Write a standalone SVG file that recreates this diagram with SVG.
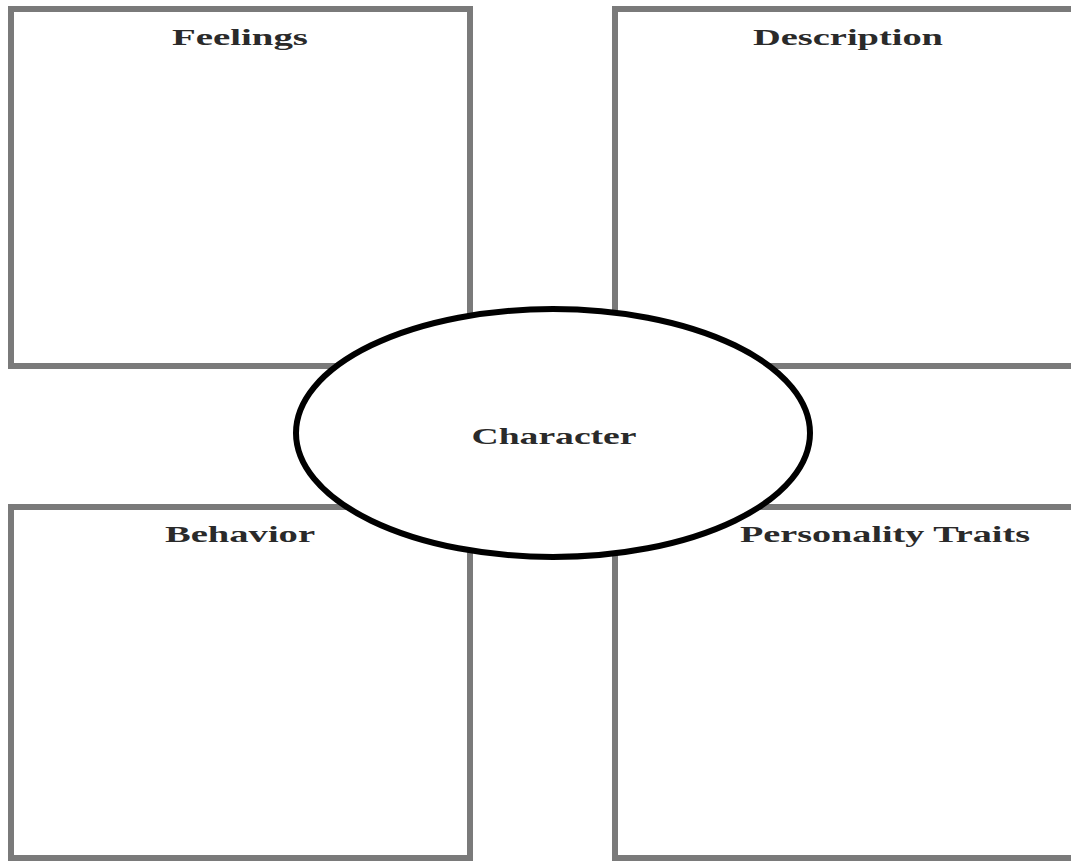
<svg xmlns="http://www.w3.org/2000/svg" width="1071" height="861" viewBox="0 0 1071 861">
<style>
.box{fill:#fff;stroke:#7a7a7a;stroke-width:6}
.lbl{font-family:"Liberation Serif","Times New Roman",serif;font-weight:bold;font-size:24px;fill:#2a2a2a;text-anchor:middle}
.oval{fill:#fff;stroke:#000;stroke-width:6}
</style>
<rect width="1071" height="861" fill="#fff"/>
<g id="feelings">
<rect class="box" x="11" y="9" width="459" height="357"/>
<text class="lbl" x="240" y="45" textLength="136" lengthAdjust="spacingAndGlyphs">Feelings</text>
</g>
<g id="description">
<rect class="box" x="615" y="9" width="470" height="357"/>
<text class="lbl" x="848" y="45" textLength="190" lengthAdjust="spacingAndGlyphs">Description</text>
</g>
<g id="behavior">
<rect class="box" x="11" y="507" width="459" height="351"/>
<text class="lbl" x="240" y="542" textLength="150" lengthAdjust="spacingAndGlyphs">Behavior</text>
</g>
<g id="personality">
<rect class="box" x="615" y="507" width="470" height="351"/>
<text class="lbl" x="885" y="542" textLength="290" lengthAdjust="spacingAndGlyphs">Personality Traits</text>
</g>
<g id="connectors"></g>
<g id="character">
<ellipse class="oval" cx="553" cy="433" rx="257" ry="124"/>
<text class="lbl" x="554" y="444" textLength="165" lengthAdjust="spacingAndGlyphs">Character</text>
</g>
</svg>
